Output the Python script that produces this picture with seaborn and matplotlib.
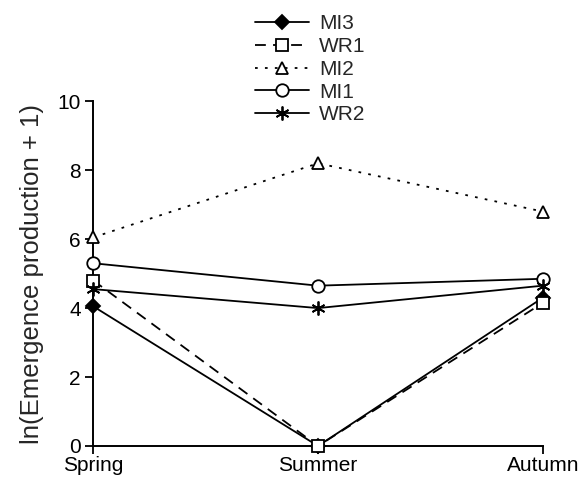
import matplotlib
matplotlib.use("Agg")
import matplotlib.pyplot as plt
import seaborn as sns
import pandas as pd

seasons = ["Spring", "Summer", "Autumn"]
sites = ["MI3", "WR1", "MI2", "MI1", "WR2"]
mi3 = [4.05, 0.0, 4.3]
wr1 = [4.8, 0.0, 4.15]
mi2 = [6.05, 8.2, 6.8]
mi1 = [5.3, 4.65, 4.85]
wr2 = [4.55, 4.0, 4.65]
values = {"MI3": mi3, "WR1": wr1, "MI2": mi2, "MI1": mi1, "WR2": wr2}

rows = []
for s in sites:
    for i, season in enumerate(seasons):
        rows.append({"site": s, "x": i, "season": season, "value": values[s][i]})
df = pd.DataFrame(rows)

sns.set_theme(style="ticks")
plt.rcParams['font.family'] = ['Liberation Sans', 'DejaVu Sans']

fig = plt.figure(figsize=(5.83, 4.82), dpi=100)
ax = fig.add_axes([0.16, 0.0747, 0.771, 0.7153])

styles = {
    "MI3": dict(marker="D", mfc="black", ls="-", ms=7),
    "WR1": dict(marker="s", mfc="white", ls=(0, (6, 4)), ms=8),
    "MI2": dict(marker="^", mfc="white", ls=(0, (1.5, 4)), ms=9),
    "MI1": dict(marker="o", mfc="white", ls="-", ms=9),
    "WR2": dict(marker=(6, 2, 0), mfc="black", ls="-", ms=10),
}

for s in sites:
    st = styles[s]
    sub = df[df.site == s]
    sns.lineplot(data=sub, x="x", y="value", ax=ax, color="black", lw=1.3,
                 marker=st["marker"], markersize=st["ms"], markerfacecolor=st["mfc"],
                 markeredgecolor="black", markeredgewidth=1.3, linestyle=st["ls"],
                 label=s, clip_on=False, zorder=3)

ax.set_xlim(0, 2)
ax.set_ylim(0, 10)
ax.set_xticks([0, 1, 2])
ax.set_xticklabels(seasons)
ax.set_yticks([0, 2, 4, 6, 8, 10])
ax.set_xlabel("")
ax.set_ylabel("ln(Emergence production + 1)", fontsize=18.5, labelpad=10)
ax.tick_params(axis="both", labelsize=15, direction="out", length=6, width=1.3, colors="black")
ax.tick_params(axis="x", pad=1)
ax.tick_params(axis="y", pad=3)
for sp in ["top", "right"]:
    ax.spines[sp].set_visible(False)
for sp in ["left", "bottom"]:
    ax.spines[sp].set_linewidth(1.4)
    ax.spines[sp].set_color("black")

leg = ax.legend(loc="upper left", bbox_to_anchor=(0.437, 0.97), bbox_transform=fig.transFigure,
                frameon=False, fontsize=15, handlelength=2.6, labelspacing=0.18,
                borderpad=0, borderaxespad=0, handletextpad=0.5)

fig.savefig("out.png", dpi=100)
